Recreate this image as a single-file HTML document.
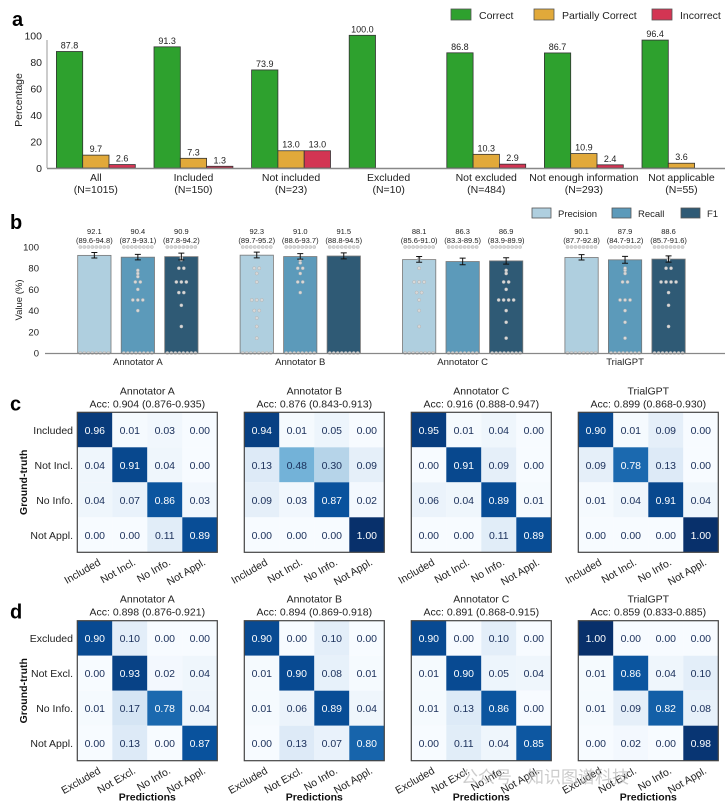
<!DOCTYPE html>
<html><head><meta charset="utf-8"><style>
body{margin:0;background:#fff;}
svg{display:block;font-family:"Liberation Sans","Noto Sans CJK SC",sans-serif;}
</style></head><body>
<svg id="fig" width="725" height="807" viewBox="0 0 725 807" xmlns="http://www.w3.org/2000/svg"></svg>
<script>
// ---------- Panel a data ----------
const aCategories = ["All","Included","Not included","Excluded","Not excluded","Not enough information","Not applicable"];
const aCounts = ["(N=1015)","(N=150)","(N=23)","(N=10)","(N=484)","(N=293)","(N=55)"];
const aCorrect = [87.8,91.3,73.9,100.0,86.8,86.7,96.4];
const aPartial = [9.7,7.3,13.0,0,10.3,10.9,3.6];
const aIncorrect = [2.6,1.3,13.0,0,2.9,2.4,0];
const aTicks = [0,20,40,60,80,100];
// ---------- Panel b data ----------
const bGroups = ["Annotator A","Annotator B","Annotator C","TrialGPT"];
const bPrecision = [92.1,92.3,88.1,90.1];
const bPrecisionCI = [[89.6,94.8],[89.7,95.2],[85.6,91.0],[87.7,92.8]];
const bRecall = [90.4,91.0,86.3,87.9];
const bRecallCI = [[87.9,93.1],[88.6,93.7],[83.3,89.5],[84.7,91.2]];
const bF1 = [90.9,91.5,86.9,88.6];
const bF1CI = [[87.8,94.2],[88.8,94.5],[83.9,89.9],[85.7,91.6]];
const bTicks = [0,20,40,60,80,100];
const bDots = [
 [[],[78,75,72,67,67,60,50,50,50,40],[90,88,80,80,67,67,67,57,57,45,25]],
 [[80,80,75,67,50,50,50,40,40,33,25,14],[88,85,80,80,75,67,67,57],[]],
 [[89,80,67,67,67,57,57,50,40,25],[],[78,75,67,67,60,50,50,50,50,40,29,14]],
 [[],[80,78,75,67,67,50,50,50,40,29,14],[90,88,80,80,67,67,67,67,57,45,25]]
];
// ---------- Panel c/d data ----------
const cTitles = ["Annotator A","Annotator B","Annotator C","TrialGPT"];
const cAcc = ["Acc: 0.904 (0.876-0.935)","Acc: 0.876 (0.843-0.913)","Acc: 0.916 (0.888-0.947)","Acc: 0.899 (0.868-0.930)"];
const cLabels = ["Included","Not Incl.","No Info.","Not Appl."];
const cMatrices = [
 [[0.96,0.01,0.03,0.00],[0.04,0.91,0.04,0.00],[0.04,0.07,0.86,0.03],[0.00,0.00,0.11,0.89]],
 [[0.94,0.01,0.05,0.00],[0.13,0.48,0.30,0.09],[0.09,0.03,0.87,0.02],[0.00,0.00,0.00,1.00]],
 [[0.95,0.01,0.04,0.00],[0.00,0.91,0.09,0.00],[0.06,0.04,0.89,0.01],[0.00,0.00,0.11,0.89]],
 [[0.90,0.01,0.09,0.00],[0.09,0.78,0.13,0.00],[0.01,0.04,0.91,0.04],[0.00,0.00,0.00,1.00]]
];
const dAcc = ["Acc: 0.898 (0.876-0.921)","Acc: 0.894 (0.869-0.918)","Acc: 0.891 (0.868-0.915)","Acc: 0.859 (0.833-0.885)"];
const dLabels = ["Excluded","Not Excl.","No Info.","Not Appl."];
const dMatrices = [
 [[0.90,0.10,0.00,0.00],[0.00,0.93,0.02,0.04],[0.01,0.17,0.78,0.04],[0.00,0.13,0.00,0.87]],
 [[0.90,0.00,0.10,0.00],[0.01,0.90,0.08,0.01],[0.01,0.06,0.89,0.04],[0.00,0.13,0.07,0.80]],
 [[0.90,0.00,0.10,0.00],[0.01,0.90,0.05,0.04],[0.01,0.13,0.86,0.00],[0.00,0.11,0.04,0.85]],
 [[1.00,0.00,0.00,0.00],[0.01,0.86,0.04,0.10],[0.01,0.09,0.82,0.08],[0.00,0.02,0.00,0.98]]
];

const svg = document.getElementById('fig');
const NS = "http://www.w3.org/2000/svg";
function mk(tag, attrs, parent, text){
  const e = document.createElementNS(NS, tag);
  for (const k in attrs) e.setAttribute(k, attrs[k]);
  if (text !== undefined) e.textContent = text;
  (parent || svg).appendChild(e);
  return e;
}
function label(x,y,s,size,opts){
  const o = Object.assign({x:x,y:y,'font-size':size,fill:'#222','text-anchor':'middle'}, opts||{});
  return mk('text', o, null, s);
}

// ---------- Panel a ----------
let t;
t = label(12,26,"a",20,{'font-weight':'bold','text-anchor':'start',fill:'#000'});
 
const aY = v => 168 - v*1.327;
const aX = g => 56.4 + g*97.6;
const aBW = 26.3;
aTicks.forEach(v=>{
  t = label(42, aY(v)+4, String(v), 10.5, {'text-anchor':'end'});
   
});
t = label(22,100,"Percentage",10.5,{transform:'rotate(-90 22 100)'});
 
t = mk('line',{x1:47,y1:40,x2:47,y2:168,stroke:'#999','stroke-width':1});
 
const aSeries = [[aCorrect,'#2ea12e','correct'],[aPartial,'#e1a93a','partial'],[aIncorrect,'#d33553','incorrect']];
aCategories.forEach((c,g)=>{
  aSeries.forEach((s,i)=>{
    const v = s[0][g];
    if (v<=0) return;
    const x = aX(g)+i*aBW;
    const r = mk('rect',{x:x,y:aY(v),width:aBW,height:aY(0)-aY(v),fill:s[1],stroke:'#333','stroke-width':0.8});
     
    const tl = label(x+aBW/2, aY(v)-3, v.toFixed(1), 9);
     
  });
  const cx = aX(g)+aBW*1.5;
  t = label(cx,181,c,10.5);  
  t = label(cx,193,aCounts[g],10.5);  
});
t = mk('line',{x1:47,y1:168.5,x2:725,y2:168.5,stroke:'#888','stroke-width':1.5});
 
const aLeg = [['Correct','#2ea12e',451],['Partially Correct','#e1a93a',534],['Incorrect','#d33553',652]];
aLeg.forEach(l=>{
  const r = mk('rect',{x:l[2],y:9,width:20,height:11,fill:l[1],stroke:'#555','stroke-width':0.8});
   
  t = label(l[2]+28,19,l[0],10.5,{'text-anchor':'start'});
   
});

// ---------- Panel b ----------
t = label(10,229,"b",20,{'font-weight':'bold','text-anchor':'start',fill:'#000'});
 
const bY = v => 353 - v*1.06;
const bX = (g,i) => 77.7 + g*162.4 + i*43.5;
const bBW = 33.3;
bTicks.forEach(v=>{
  t = label(39, bY(v)+3.5, String(v), 9.5, {'text-anchor':'end'});
   
});
t = label(22,300,"Value (%)",9.5,{transform:'rotate(-90 22 300)'});
 
const bSeries = [[bPrecision,bPrecisionCI,'#afcfdf','precision'],[bRecall,bRecallCI,'#5c9aba','recall'],[bF1,bF1CI,'#2f5a75','f1']];
bGroups.forEach((gname,g)=>{
  bSeries.forEach((s,i)=>{
    const v = s[0][g], ci = s[1][g];
    const x = bX(g,i), cx = x+bBW/2;
    const r = mk('rect',{x:x,y:bY(v),width:bBW,height:bY(0)-bY(v),fill:s[2],stroke:'#777','stroke-width':0.8});
     
    // dots
    const dots = bDots[g][i];
    const rows = {};
    const pts = [];
    dots.forEach(d=>{ rows[d]=(rows[d]||0)+1; });
    Object.keys(rows).forEach(k=>{
      const n = rows[k];
      for(let j=0;j<n;j++) pts.push([+k, (j-(n-1)/2)*5]);
    });
    for(let j=0;j<8;j++){ pts.push([100,(j-3.5)*4]); pts.push([0,(j-3.5)*4]); }
    pts.forEach(p=>{
      const c = mk('circle',{cx:cx+p[1],cy:bY(p[0]),r:1.6,fill:'#d8d8d8',stroke:'#aaa','stroke-width':0.4});
       
    });
    const e = mk('path',{d:`M${cx},${bY(ci[0])}V${bY(ci[1])}M${cx-3},${bY(ci[0])}H${cx+3}M${cx-3},${bY(ci[1])}H${cx+3}`,stroke:'#111','stroke-width':1,fill:'none'});
     
    t = label(cx,234,v.toFixed(1),7.5);
     
    t = label(cx,243,'('+ci[0].toFixed(1)+'-'+ci[1].toFixed(1)+')',7.5);
     
  });
  t = label(bX(g,1)+bBW/2,365,gname,9.5);
   
});
t = mk('line',{x1:45,y1:353.5,x2:725,y2:353.5,stroke:'#888','stroke-width':1.2});
 
const bLeg = [['Precision','#afcfdf',532],['Recall','#5c9aba',612],['F1','#2f5a75',681]];
bLeg.forEach(l=>{
  const r = mk('rect',{x:l[2],y:208,width:19,height:10,fill:l[1],stroke:'#555','stroke-width':0.8});
   
  t = label(l[2]+26,217,l[0],9.5,{'text-anchor':'start'});
   
});

// ---------- Heatmaps ----------
const blues = [[247,251,255],[222,235,247],[198,219,239],[158,202,225],[107,174,214],[66,146,198],[33,113,181],[8,81,156],[8,48,107]];
function blue(v){
  const p = Math.max(0,Math.min(1,v))*8, i = Math.min(7,Math.floor(p)), f = p-i;
  const a = blues[i], b = blues[i+1];
  return 'rgb('+a.map((c,k)=>Math.round(c+(b[k]-c)*f)).join(',')+')';
}
function heatmaps(top, titles, accs, labels, mats, letter, showPred){
  t = label(10, top-2, letter, 20, {'font-weight':'bold','text-anchor':'start',fill:'#000'});
   
  t = label(27, top+70, 'Ground-truth', 10.5, {'font-weight':'bold',transform:`rotate(-90 27 ${top+70})`,fill:'#111'});
   
  labels.forEach((l,r)=>{
    t = label(73, top+r*35+21.5, l, 10.5, {'text-anchor':'end'});
     
  });
  mats.forEach((m,k)=>{
    const x0 = 77.3 + k*167;
    t = label(x0+70, top-18, titles[k], 10.5);
     
    t = label(x0+70, top-5, accs[k], 10.5);
     
    m.forEach((row,r)=>row.forEach((v,c)=>{
      const cell = mk('rect',{x:x0+c*35,y:top+r*35,width:35,height:35,fill:blue(v)});
       
      const tt = label(x0+c*35+17.5, top+r*35+21.5, v.toFixed(2), 10.5, {fill: v>0.5?'#fff':'#1a2f5a'});
       
    }));
    const b = mk('rect',{x:x0,y:top,width:140,height:140,fill:'none',stroke:'#444','stroke-width':1.2});
     
    labels.forEach((l,c)=>{
      const lx = x0+c*35+24, ly = top+152;
      t = label(lx, ly, l, 10.5, {'text-anchor':'end',transform:`rotate(-30 ${lx} ${ly})`});
       
    });
    if (showPred){
      t = label(x0+70, top+180, 'Predictions', 10.5, {'font-weight':'bold',fill:'#111'});
       
    }
  });
}
heatmaps(412.3, cTitles, cAcc, cLabels, cMatrices, 'c', false);
heatmaps(620.7, cTitles, dAcc, dLabels, dMatrices, 'd', true);

t = label(545,783,'公众号 · 知识图谱科技',17,{fill:'#bbb','fill-opacity':0.75});
 
</script>
</body></html>
